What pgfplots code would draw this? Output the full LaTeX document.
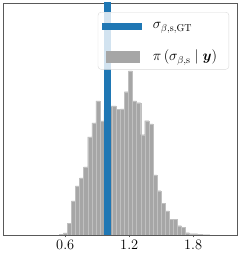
\documentclass[border=0pt]{standalone}
\usepackage{amsmath}
\usepackage{fontspec}
\usepackage{pgfplots}
\pgfplotsset{compat=1.18}
\definecolor{mplblue}{RGB}{31,119,180}
\definecolor{histgray}{RGB}{166,166,166}
\definecolor{edgegray}{RGB}{192,192,192}
\begin{document}
\begin{tikzpicture}
\begin{axis}[
  scale only axis, width=234pt, height=232pt,
  xmin=0.016, xmax=2.211, ymin=0, ymax=232,
  axis line style={draw=black!65, line width=0.8pt},
  ytick=\empty,
  xtick={0.6,1.2,1.8},
  xticklabels={0.6,1.2,1.8},
  xtick pos=bottom, tick align=outside, major tick length=2.5pt,
  tick style={black!65, line width=0.6pt},
  ticklabel style={font=\Large},
  xticklabel style={yshift=1pt},
  legend style={at={(0.966,0.961)}, anchor=north east,
    draw=black!15, rounded corners=3pt, fill=white, fill opacity=0.8,
    text opacity=1, draw opacity=1,
    font=\Large, cells={anchor=west},
    inner xsep=1pt, inner ysep=5pt, row sep=12pt},
  legend cell align=left,
]
\addplot[mplblue, line width=6.8pt,
  legend image code/.code={\path (0pt,-6pt) (45pt,6pt);
    \draw[mplblue, line width=6.8pt, draw opacity=1, sharp corners] (0pt,0pt) -- (40pt,0pt);}]
  coordinates {(0.995,-10) (0.995,300)};
\addlegendentry{\makebox[73pt][l]{$\sigma_{\beta,\mathrm{s},\mathrm{GT}}$}}
\addplot[ybar interval, fill=histgray, draw=edgegray, line width=0.25pt,
  legend image code/.code={\path (0pt,-6pt) (45pt,6pt);
    \fill[histgray, fill opacity=1, sharp corners] (3.5pt,-5.5pt) rectangle (36.5pt,5.5pt);}]
  coordinates {
  (0.5430,0.5) (0.5812,2) (0.6194,11.7) (0.6576,34) (0.6958,49) (0.7340,57)
  (0.7722,68) (0.8104,98) (0.8486,112) (0.8868,134) (0.9250,114) (0.9632,125)
  (1.0014,129) (1.0396,129) (1.0778,125.7) (1.1160,126) (1.1542,143.3) (1.1924,164)
  (1.2306,134) (1.2688,132.3) (1.3070,100.3) (1.3452,114.3) (1.3834,111) (1.4216,60)
  (1.4598,44.3) (1.4980,31.7) (1.5362,24) (1.5744,15.7) (1.6126,15.7) (1.6508,9.3)
  (1.6890,7.7) (1.7272,2.3) (1.7654,1.3) (1.8036,1.3) (1.8418,0.5) (1.8800,0.3)
  (1.9182,0.3) (1.9564,0.3)
  };
\addlegendentry{\makebox[73pt][l]{$\pi\left(\sigma_{\beta,\mathrm{s}} \mid \boldsymbol{y}\right)$}}
\addplot[mplblue, line width=6.8pt, forget plot]
  coordinates {(0.995,-10) (0.995,300)};
\end{axis}
\path (current axis.south west) ++(-3pt,-22pt) coordinate (bbA);
\path (current axis.north east) ++(4pt,3pt) coordinate (bbB);
\useasboundingbox (bbA) rectangle (bbB);
\end{tikzpicture}
\end{document}
